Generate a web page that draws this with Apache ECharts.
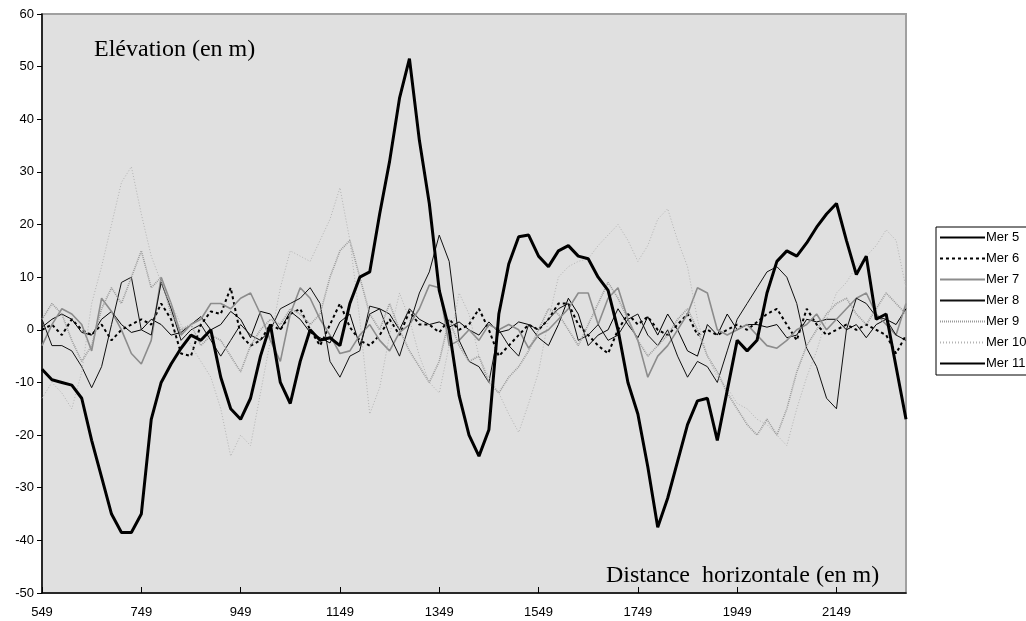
<!DOCTYPE html>
<html>
<head>
<meta charset="utf-8">
<script src="https://cdn.jsdelivr.net/npm/echarts@6/dist/echarts.min.js"></script>
<style>
  html, body { margin: 0; padding: 0; background: #fff; }
  #chart { width: 1026px; height: 621px; }
</style>
</head>
<body>
<div id="chart"></div>
<script>
// distance horizontale (m), un point tous les 20 m
var distances = [
    549, 569, 589, 609, 629, 649, 669, 689, 709, 729,
    749, 769, 789, 809, 829, 849, 869, 889, 909, 929,
    949, 969, 989, 1009, 1029, 1049, 1069, 1089, 1109, 1129,
    1149, 1169, 1189, 1209, 1229, 1249, 1269, 1289, 1309, 1329,
    1349, 1369, 1389, 1409, 1429, 1449, 1469, 1489, 1509, 1529,
    1549, 1569, 1589, 1609, 1629, 1649, 1669, 1689, 1709, 1729,
    1749, 1769, 1789, 1809, 1829, 1849, 1869, 1889, 1909, 1929,
    1949, 1969, 1989, 2009, 2029, 2049, 2069, 2089, 2109, 2129,
    2149, 2169, 2189, 2209, 2229, 2249, 2269, 2289
];

var mer5 = [
    0.5, 2, 3, 2, -0.5, -1, 2, 3.5, 1, -0.5,
    0, 2, 1, -1, -0.5, 1, 2.5, 0, 1, 3.5,
    2, -1.5, 3.5, 3, 0, 3.5, 2, -0.5, -1.5, -2.5,
    1.5, 3, -3, 3, 4, 3, 0, 4, 2, 1,
    1.5, 0.5, 1.5, 0, -1, 1.5, -0.5, 0, 1.5, 1,
    -1.5, -3, 1, 6, 3, -3, -1, 0, 4, 1,
    -1.5, 2.5, -1, 3, 0, -4, -5, 1, -1, 3,
    0, 1, 1, 0.5, 1, -1.5, -1, 2, 1.5, 2,
    2, 0, 1, -1.5, 1, 2, 1, 4
];

var mer6 = [
    0, 1, -1, 2, 0, -1, 1, -2, 0, 1,
    2, 1, 5, 2, -4.5, -5, 1, 3.5, 3, 8,
    -1, -3, -2, 1, 0, 3, 4, 0, -3, 1,
    5, 0.5, -2, -3, -1, 2, -1, 3.5, 1, 1,
    -0.5, 2, 0, 1, 4, 0, -5, -3, -1, 1,
    0, 2, 5, 5, 1, -1, -3, -4.5, 0, 3,
    1, 2.5, 0, -1, 1, 3, -1, 0, -1, 0,
    1, 0, 1.5, 3, 4, 1, -2, 4, 1, -1,
    0, 1, 0, 1, 0, -1, -4.5, -1
];

var mer7 = [
    -3, 1, 4, 3, 1, -4, 6, 3.5, 0, -4.5,
    -6.5, -2, 10, 5, -1, 1, 2, 5, 5, 4,
    6, 7, 3, -2, -6, 3, 8, 6, 2, -1,
    -4.5, -4, -1, 1, -2, -4, -0.5, 1, 4, 8.5,
    8, -3, -2, 0, -2, 1, 0, 1, 0, -3.5,
    -1, 0, 2, 4, 7, 7, 1, 6, 8, 2,
    -2, -9, -5, -3, 0, 3, 8, 7, 0, -1,
    0, 1, -1, -3, -3.5, -2, 0, 1, 3, 0,
    2, 4, 6, 7, 3, 1, -1, 5
];

var mer8 = [
    2, -3, -3, -4, -7, -11, -7, 1, 9, 10,
    0, -1, 9, 4, -2, 0, 1, -2, -5, -2,
    1, -1, -2, 0, 4, 5, 6, 8, 5, -6,
    -9, -5, -4, 4.5, 4, -1, -5, 1, 7, 11,
    18, 13, -2, -6, -7, -10, 0, -3, -5, 1,
    0, 2, 4, 5, -2, -1, 1, -2, -1, 2,
    3, -1, -3, 0, -5, -9, -6, -7, -10, -4,
    2, 5, 8, 11, 12, 10, 5, -3.5, -7, -13,
    -15, 0, 6, 5, 2.5, 2, -1, -2
];

var mer9 = [
    2, 5, 3, -2, -6, -3, 4, 8, 5, 10,
    15, 8, 10, 3, 0, 1, -3, -1, -2, -5,
    -8, -3, 0, 2, 1, 4, 3, 1, 3, 10,
    15, 17, 10, 3, 0, 5, 0, -4, -7, -10,
    -6, 2, -3, -6, -5, -10, -12, -9, -7, -4,
    0, 4, 3, 0, -3, 1, 5, 9, 6, 2,
    -2, -5, -3, -1, 2, 4, 0, -5, -8, -12,
    -15, -18, -20, -17, -20, -15, -8, -3, 0, 3,
    5, 6, 3, 1, 4, 7, 5, 3
];

var mer10 = [
    -13, -10, -12, -15, -8, 5, 12, 20, 28, 31,
    22, 14, 9, 5, 1, -3, -6, -9, -15, -24,
    -20, -22, -12, -2, 8, 15, 14, 13, 17, 21,
    27, 17, 2, -16, -11, -1, 7, 2, -5, -10,
    -12, -3, 7, 3, -5, -9, -12, -16, -19.5, -14,
    -8, 2, 10, 12, 13, 13.5, 16, 18, 20, 17,
    13, 16, 21, 23, 17, 12, 2, -5, -9, -11,
    -14, -15, -17, -18, -20, -22, -15, -9, -4, 2,
    7, 9, 12, 14, 16, 19, 17, 8
];

var mer11 = [
    -7.5, -9.5, -10, -10.5, -13, -21, -28, -35, -38.5, -38.5,
    -35, -17, -10, -6.5, -3.5, -1, -2, 0, -9, -15,
    -17, -13, -5, 1, -10, -14, -6, 0, -2, -1.5,
    -3, 5, 10, 11, 22, 32, 44, 51.5, 36, 24,
    7.5, 0, -12.5, -20, -24, -19, 3, 12.5, 17.7, 18,
    14, 12, 15, 16, 14, 13.5, 10, 7.5, 0, -10,
    -16, -26, -37.5, -32, -25, -18, -13.5, -13, -21, -11.5,
    -2, -4, -2, 7, 13, 15, 14, 16.5, 19.5, 22,
    24, 17, 10.5, 14, 2, 3, -7, -17
];

var serif = 'Liberation Serif';
var sans = 'Liberation Sans';

function ligne(name, data, color, width, type) {
    return {
        name: name,
        type: 'line',
        data: data,
        symbol: 'none',
        smooth: false,
        animation: false,
        lineStyle: { color: color, width: width, type: type },
        itemStyle: { color: color }
    };
}

var myChart = echarts.init(document.getElementById('chart'), null, { renderer: 'canvas' });
var option = {
    backgroundColor: '#ffffff',
    animation: false,
    grid: {
        left: 42,
        top: 14,
        right: 120,
        bottom: 28,
        show: true,
        backgroundColor: '#e0e0e0',
        borderColor: '#a0a0a0',
        borderWidth: 2
    },
    legend: {
        orient: 'vertical',
        left: 936,
        top: 227,
        itemWidth: 45,
        itemHeight: 14,
        itemGap: 8,
        padding: [4, 4, 5, 3],
        backgroundColor: '#ffffff',
        borderColor: '#000000',
        borderWidth: 1,
        borderRadius: 0,
        itemStyle: { opacity: 0 },
        textStyle: { fontFamily: sans, fontSize: 13, color: '#000', padding: [0, 0, 0, -4] },
        data: ['Mer 5', 'Mer 6', 'Mer 7', 'Mer 8', 'Mer 9', 'Mer 10', 'Mer 11']
    },
    graphic: [
        {
            type: 'text',
            left: 94,
            top: 38,
            style: { text: 'Elévation (en m)', fontFamily: serif, fontSize: 24, fill: '#000' }
        },
        {
            type: 'text',
            left: 606,
            top: 564,
            style: { text: 'Distance  horizontale (en m)', fontFamily: serif, fontSize: 24, fill: '#000' }
        }
    ],
    xAxis: {
        type: 'category',
        boundaryGap: false,
        data: distances,
        axisLine: { onZero: false, lineStyle: { color: '#000', width: 1.5 } },
        axisTick: { interval: 9, inside: true, length: 6, lineStyle: { color: '#000' } },
        axisLabel: { interval: 9, fontFamily: sans, fontSize: 13, color: '#000', margin: 13 },
        splitLine: { show: false }
    },
    yAxis: {
        type: 'value',
        min: -50,
        max: 60,
        interval: 10,
        axisLine: { show: true, lineStyle: { color: '#000', width: 1.5 } },
        axisTick: { show: true, length: 5, lineStyle: { color: '#000' } },
        axisLabel: { fontFamily: sans, fontSize: 13, color: '#000', margin: 8 },
        splitLine: { show: false }
    },
    series: [
        ligne('Mer 5', mer5, '#000000', 1, 'solid'),
        ligne('Mer 6', mer6, '#000000', 2, [3, 3]),
        ligne('Mer 7', mer7, '#8c8c8c', 1.6, 'solid'),
        ligne('Mer 8', mer8, '#111111', 1, 'solid'),
        ligne('Mer 9', mer9, '#9a9a9a', 1.6, [1, 1]),
        ligne('Mer 10', mer10, '#b4b4b4', 1, [1, 2]),
        ligne('Mer 11', mer11, '#000000', 3, 'solid')
    ]
};

myChart.setOption(option);
</script>
</body>
</html>
